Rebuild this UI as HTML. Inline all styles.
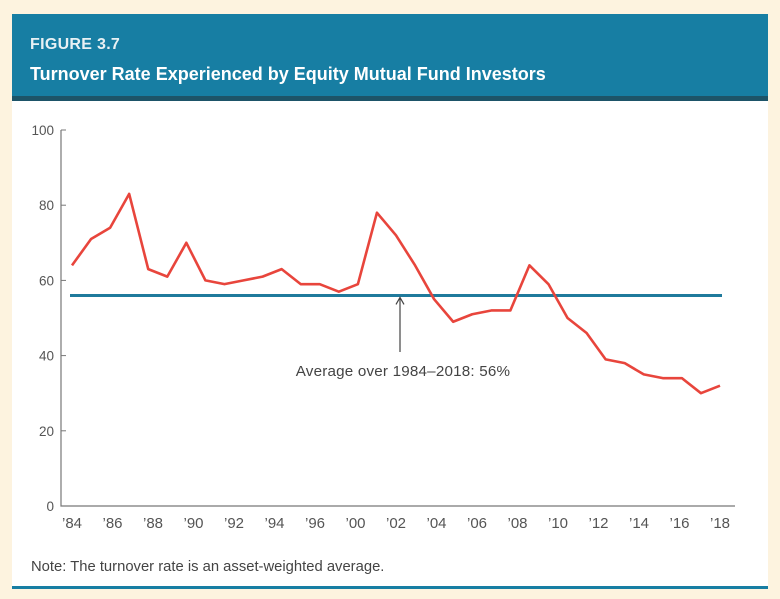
<!DOCTYPE html>
<html><head><meta charset="utf-8"><style>
body{margin:0;width:780px;height:599px;background:#fdf3df;font-family:"Liberation Sans",sans-serif;overflow:hidden;position:relative}
#hdr{position:absolute;left:12px;top:14px;width:756px;height:82px;background:#177ea3;border-bottom:5px solid #1d5468}
#fig{position:absolute;left:18px;top:22px;color:#e8f1f4;font-weight:bold;font-size:16px;letter-spacing:0.3px}
#ttl{position:absolute;left:18px;top:50px;color:#fff;font-weight:bold;font-size:18px;letter-spacing:0px}
#panel{position:absolute;left:12px;top:101px;width:756px;height:485px;background:#fff;border-bottom:3px solid #177ea3}
svg{position:absolute;left:0;top:0}
</style></head><body>
<div id="hdr">
<div id="fig">FIGURE 3.7</div>
<div id="ttl">Turnover Rate Experienced by Equity Mutual Fund Investors</div>
</div>
<div id="panel"></div>
<svg id="chart" width="780" height="599"></svg>
<script>
const years=[1984,1985,1986,1987,1988,1989,1990,1991,1992,1993,1994,1995,1996,1997,1998,1999,2000,2001,2002,2003,2004,2005,2006,2007,2008,2009,2010,2011,2012,2013,2014,2015,2016,2017,2018];
const turnover=[64,71,74,83,63,61,70,60,59,60,61,63,59,59,57,59,78,72,64,55,49,51,52,52,64,59,50,46,39,38,35,34,34,30,32];
const average=[56];
const yTicks=[0,20,40,60,80,100];
const xTickLabels=["’84","’86","’88","’90","’92","’94","’96","’00","’02","’04","’06","’08","’10","’12","’14","’16","’18"];
const NS="http://www.w3.org/2000/svg";
const svg=document.getElementById('chart');
const X0=72,X1=720,Y0=506,Y1=130;
function xs(i){return X0+(X1-X0)*i/(years.length-1);}
function ys(v){return Y0-(Y0-Y1)*v/100;}
function mk(t,a){const e=document.createElementNS(NS,t);for(const k in a)e.setAttribute(k,a[k]);svg.appendChild(e);return e;}
const ax=mk('path',{d:`M61 ${Y1} V${Y0} H735`,fill:'none',stroke:'#777','stroke-width':1.2});


yTicks.forEach(v=>{
 const t=mk('line',{x1:61,x2:66,y1:ys(v),y2:ys(v),stroke:'#777'});
 
 
 const l=mk('text',{x:54,y:ys(v)+5,'text-anchor':'end','font-size':13.5,fill:'#555'});
 l.textContent=v;
 
 
});
xTickLabels.forEach((s,i)=>{
 const x=X0+(X1-X0)*i/(xTickLabels.length-1);
 const l=mk('text',{x:x,y:528,'text-anchor':'middle','font-size':15,fill:'#555'});
 l.textContent=s;
 
 
});
const av=mk('line',{x1:X0-2,x2:X1+2,y1:ys(average[0]),y2:ys(average[0]),stroke:'#1f7a9c','stroke-width':3});


const ar=mk('path',{d:`M400 352 V${ys(average[0])+3} M396 ${ys(average[0])+9} L400 ${ys(average[0])+2} L404 ${ys(average[0])+9}`,fill:'none',stroke:'#444','stroke-width':1.2});


const at=mk('text',{x:403,y:376,'text-anchor':'middle','font-size':15.2,fill:'#444','letter-spacing':0.2});
at.textContent='Average over 1984–2018: '+average[0]+'%';


const ln=mk('polyline',{points:turnover.map((v,i)=>xs(i)+','+ys(v)).join(' '),fill:'none',stroke:'#e8453c','stroke-width':2.6,'stroke-linejoin':'round'});


const n=mk('text',{x:31,y:571,'font-size':14.8,fill:'#444'});
n.textContent='Note: The turnover rate is an asset-weighted average.';


</script>
</body></html>
